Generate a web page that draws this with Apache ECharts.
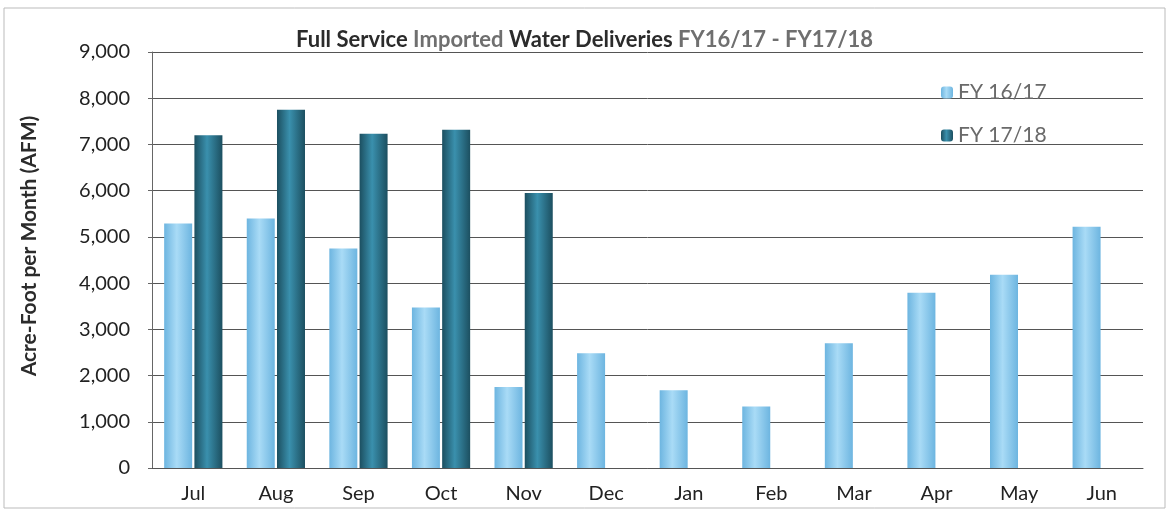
<!DOCTYPE html>
<html>
<head>
<meta charset="utf-8">
<script src="https://cdn.jsdelivr.net/npm/echarts@6/dist/echarts.min.js"></script>
<style>
  html, body { margin: 0; padding: 0; background: #fff; }
  #chart { width: 1169px; height: 516px; }
</style>
</head>
<body>
<div id="chart"></div>
<script>
  // months of the fiscal year
  var months = ['Jul', 'Aug', 'Sep', 'Oct', 'Nov', 'Dec', 'Jan', 'Feb', 'Mar', 'Apr', 'May', 'Jun']
  // acre-feet per month
  var fy1617 = [5290, 5400, 4750, 3470, 1750, 2480, 1680, 1330, 2700, 3790, 4180, 5220]
  var fy1718 = [7200, 7750, 7230, 7320, 5950, null, null, null, null, null, null, null]
  var seriesNames = ['FY 16/17', 'FY 17/18']

  var chart = echarts.init(document.getElementById('chart'))

  function barGrad(edge, mid) {
    return new echarts.graphic.LinearGradient(0, 0, 1, 0, [
      { offset: 0, color: edge },
      { offset: 0.45, color: mid },
      { offset: 1, color: edge }
    ])
  }

  chart.setOption({
    textStyle: { fontFamily: 'Lato' },
    graphic: [{
      type: 'rect',
      shape: { x: 4, y: 8, width: 1161, height: 500 },
      style: { fill: 'none', stroke: '#bbb', lineWidth: 1 }
    }],
    title: {
      text: '{d|Full Service }{g|Imported }{d|Water Deliveries }{g|FY16/17 - FY17/18}',
      left: 'center',
      top: 24,
      textStyle: {
        rich: {
          d: { fontSize: 22, fontWeight: 'bold', color: '#2b2b2b', fontFamily: 'Lato' },
          g: { fontSize: 22, fontWeight: 'bold', color: '#6f6f6f', fontFamily: 'Lato' }
        }
      }
    },
    legend: {
      data: seriesNames,
      orient: 'vertical',
      left: 936,
      top: 77,
      itemGap: 22,
      itemWidth: 12,
      itemHeight: 12,
      textStyle: { fontSize: 21, color: '#6a6a6a', fontFamily: 'Lato' }
    },
    grid: {
      left: 152,
      right: 26,
      top: 52,
      bottom: 48
    },
    xAxis: {
      type: 'category',
      data: months,
      axisTick: { show: false },
      axisLine: { lineStyle: { color: '#555', width: 1 } },
      axisLabel: { fontSize: 20, color: '#222', margin: 16 }
    },
    yAxis: {
      type: 'value',
      min: 0,
      max: 9000,
      interval: 1000,
      name: 'Acre-Foot per Month (AFM)',
      nameLocation: 'middle',
      nameGap: 112,
      nameTextStyle: { fontSize: 21, fontWeight: 'bold', color: '#2b2b2b', padding: [0, 0, 0, 28] },
      axisLine: { show: true, lineStyle: { color: '#666' } },
      axisTick: { show: true, length: 4, lineStyle: { color: '#666' } },
      axisLabel: {
        fontSize: 20,
        color: '#222',
        margin: 22,
        formatter: function (v) { return v.toLocaleString('en-US') }
      },
      splitLine: { lineStyle: { color: '#555', width: 1 } }
    },
    series: [{
      name: seriesNames[0],
      type: 'bar',
      data: fy1617,
      barWidth: 28,
      barGap: '8%',
      itemStyle: {
        color: barGrad('#6db5e0', '#a9dbf6')
      }
    }, {
      name: seriesNames[1],
      type: 'bar',
      data: fy1718,
      barWidth: 28,
      itemStyle: {
        color: barGrad('#1c4f60', '#3a90ad')
      }
    }]
  })
</script>
</body>
</html>
